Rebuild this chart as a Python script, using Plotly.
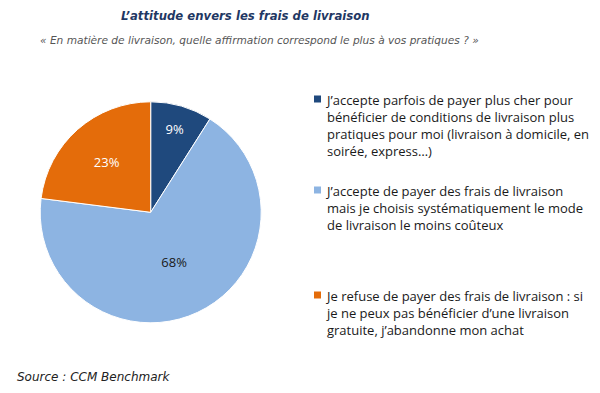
import plotly.graph_objects as go

labels = [
    "J’accepte parfois de payer plus cher pour<br>bénéficier de conditions de livraison plus<br>pratiques pour moi (livraison à domicile, en<br>soirée, express…)",
    "J’accepte de payer des frais de livraison<br>mais je choisis systématiquement le mode<br>de livraison le moins coûteux",
    "Je refuse de payer des frais de livraison : si<br>je ne peux pas bénéficier d’une livraison<br>gratuite, j’abandonne mon achat",
]
values = [9, 68, 23]
colors = ["#1F497D", "#8DB4E2", "#E46C0A"]
text_colors = ["white", "#1a1a1a", "white"]

W, H = 600, 393
cx, cy, r = 150.7, 212.3, 110.5

fig = go.Figure(go.Pie(
    labels=labels,
    values=values,
    sort=False,
    direction="clockwise",
    rotation=0,
    marker=dict(colors=colors, line=dict(color="white", width=1)),
    texttemplate="%{value}%",
    textposition="inside",
    insidetextorientation="horizontal",
    insidetextfont=dict(color=text_colors, size=13, family="Open Sans, Liberation Sans, sans-serif"),
    domain=dict(x=[(cx - r) / W, (cx + r) / W], y=[1 - (cy + r) / H, 1 - (cy - r) / H]),
    showlegend=False,
    hoverinfo="label+percent",
))

legend_tops = [99, 190, 295]
shapes = []
annotations = []
for lab, col, ty in zip(labels, colors, legend_tops):
    shapes.append(dict(type="rect", xref="paper", yref="paper",
                       x0=314 / W, x1=321 / W, y0=1 - (ty + 3.5) / H, y1=1 - (ty - 3.5) / H,
                       fillcolor=col, line=dict(width=0)))
    annotations.append(dict(text=lab, xref="paper", yref="paper",
                            x=323 / W, y=1 - (ty - 10.5) / H, xanchor="left", yanchor="top",
                            align="left", showarrow=False,
                            font=dict(size=13, color="#1a1a1a", family="Open Sans, Liberation Sans, sans-serif")))

annotations.append(dict(text="<b><i>L’attitude envers les frais de livraison</i></b>",
                        xref="paper", yref="paper", x=246 / W, y=1 - 16 / H,
                        xanchor="center", yanchor="middle", showarrow=False,
                        font=dict(size=11.7, color="#1F3864", family="DejaVu Sans, Verdana, sans-serif")))
annotations.append(dict(text="<i>« En matière de livraison, quelle affirmation correspond le plus à vos pratiques ? »</i>",
                        xref="paper", yref="paper", x=259.5 / W, y=1 - 40 / H,
                        xanchor="center", yanchor="middle", showarrow=False,
                        font=dict(size=10.6, color="#555555", family="DejaVu Sans, Verdana, sans-serif")))
annotations.append(dict(text="<i>Source : CCM Benchmark</i>",
                        xref="paper", yref="paper", x=15 / W, y=1 - 377 / H,
                        xanchor="left", yanchor="middle", showarrow=False,
                        font=dict(size=12, color="#222222", family="DejaVu Sans, Verdana, sans-serif")))

fig.update_layout(
    width=W, height=H,
    margin=dict(l=0, r=0, t=0, b=0),
    paper_bgcolor="white",
    plot_bgcolor="white",
    shapes=shapes,
    annotations=annotations,
)

fig.write_html("out.html", config={"displayModeBar": False},
               post_script="document.body.style.margin='0';document.body.style.overflow='hidden';")
